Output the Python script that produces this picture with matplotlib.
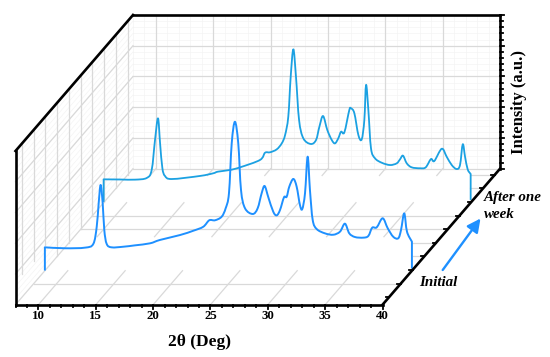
import numpy as np
import matplotlib
matplotlib.use("Agg")
import matplotlib.pyplot as plt
from matplotlib.path import Path
from matplotlib.patches import PathPatch

plt.rcParams['font.family'] = ['Liberation Serif', 'DejaVu Serif']

# values
initial_theta = [8.0, 8.0, 9.75, 11.5, 12.22, 12.52, 12.69, 12.86, 13.04, 13.18, 13.39, 13.82, 14.84, 15.86,
                 17.16, 18.03, 19.78, 20.94, 21.81, 22.33, 22.83, 23.41, 23.76, 24.05, 24.29, 24.57, 24.86,
                 25.10, 25.45, 26.12, 26.55, 26.90, 27.16, 27.48, 27.91, 28.21, 28.50, 28.85, 29.08, 29.31,
                 29.66, 29.95, 30.24, 30.44, 30.68, 30.91, 31.11, 31.35, 31.70, 32.42, 33.14, 33.73, 34.16,
                 34.54, 35.04, 35.76, 36.20, 36.54, 36.93, 37.45, 37.89, 38.37, 38.81, 39.05, 39.33, 39.57,
                 40.0, 40.0]
initial_int = [0.1, 15.2, 14.6, 15.0, 17.4, 28.6, 43.9, 55.8, 43.9, 26.5, 17.4, 15.2, 15.6, 16.5,
               17.8, 20.0, 23.2, 26.0, 28.6, 32.8, 32.8, 35.1, 40.6, 50.4, 82.9, 96.9, 82.9,
               52.5, 40.6, 36.9, 40.6, 50.4, 55.1, 47.8, 38.4, 36.0, 39.5, 47.8, 48.1, 54.7,
               59.7, 54.7, 42.7, 40.1, 50.4, 74.2, 52.5, 33.0, 27.1, 24.3, 23.4, 25.4, 30.6,
               24.3, 21.9, 21.5, 22.6, 28.0, 28.2, 34.1, 27.6, 22.1, 21.1, 26.5, 37.3, 25.4,
               18.9, 1.3]

week_theta = [8.0, 8.0, 9.43, 10.74, 11.76, 12.19, 12.48, 12.74, 12.92, 13.12, 13.35, 13.94, 16.40, 17.54,
              17.97, 19.02, 19.89, 21.63, 22.07, 22.51, 23.09, 23.53, 23.82, 24.10, 24.31, 24.54, 24.77,
              25.04, 25.41, 26.06, 26.52, 26.81, 27.13, 27.50, 27.89, 28.17, 28.46, 28.70, 28.99, 29.42,
              29.57, 29.86, 30.21, 30.50, 30.73, 30.88, 31.08, 31.31, 31.66, 32.25, 32.97, 33.55, 33.84,
              34.10, 34.43, 34.86, 35.59, 36.08, 36.54, 36.83, 37.48, 37.91, 38.35, 38.78, 39.07, 39.31,
              39.51, 39.74, 40.0, 40.0]
week_int = [0.5, 15.2, 15.1, 15.0, 16.1, 21.3, 40.8, 54.9, 38.8, 22.6, 17.4, 15.4, 17.4, 19.1,
            20.2, 21.3, 23.0, 27.8, 32.5, 32.8, 34.7, 38.6, 44.0, 56.0, 82.0, 99.8, 82.0,
            53.8, 41.9, 38.2, 40.8, 49.4, 56.4, 47.3, 40.8, 38.6, 41.9, 46.2, 45.8, 60.3,
            61.4, 58.2, 44.0, 41.2, 53.8, 76.6, 60.3, 35.4, 28.9, 26.0, 24.5, 25.6, 28.2,
            30.6, 25.6, 23.0, 22.4, 23.0, 28.4, 27.1, 35.1, 29.9, 24.5, 21.9, 24.5, 38.0,
            29.9, 21.7, 18.7, 1.8]

x_ticks = [10, 15, 20, 25, 30, 35, 40]
x_minor = list(range(8, 41))
y_ticks = [0, 20, 40, 60, 80, 100]
y_minor = list(range(0, 101, 4))
depth_ticks = [0.055, 0.155, 0.255, 0.355, 0.455, 0.555, 0.655, 0.755, 0.855, 0.955]
initial_depth = 0.25
week_depth = 0.75

# oblique projection, pixels of the picture
X0, Y0 = 15.5, 304.7
PER_DEG = 11.47
PER_INT = 1.537
DEPTH_X, DEPTH_Y = 117.5, 136.0
XMIN, XMAX = 8, 40


def project(theta, intensity, depth):
    theta = np.asarray(theta, dtype=float)
    intensity = np.asarray(intensity, dtype=float)
    return (X0 + (theta - XMIN) * PER_DEG + depth * DEPTH_X,
            Y0 - intensity * PER_INT - depth * DEPTH_Y)


def line3(ax, theta, intensity, depth, **kw):
    # depth may be a pair, for lines running into the picture
    if np.ndim(depth) == 0:
        x, y = project(theta, intensity, depth)
    else:
        x0, y0 = project(theta[0], intensity[0], depth[0])
        x1, y1 = project(theta[1], intensity[1], depth[1])
        x, y = [x0, x1], [y0, y1]
    ax.plot(x, y, **kw)


def curve3(ax, theta, intensity, depth, color, lw, zorder):
    # straight drops at both ends, smooth bezier through the read points between them
    x, y = project(theta, intensity, depth)
    pts = np.column_stack([x, y])
    verts = [pts[0], pts[1]]
    codes = [Path.MOVETO, Path.LINETO]
    for i in range(1, len(pts) - 2):
        a = pts[max(i - 1, 1)]
        b = pts[i]
        c = pts[i + 1]
        e = pts[min(i + 2, len(pts) - 2)]
        verts += [b + (c - a) / 6, c - (e - b) / 6, c]
        codes += [Path.CURVE4, Path.CURVE4, Path.CURVE4]
    verts.append(pts[-1])
    codes.append(Path.LINETO)
    ax.add_patch(PathPatch(Path(verts, codes), fill=False, edgecolor=color, lw=lw, zorder=zorder,
                           joinstyle='round', capstyle='butt'))


fig = plt.figure(figsize=(5.5, 3.57), dpi=100)
ax = fig.add_axes([0, 0, 1, 1])
ax.set_xlim(0, 550)
ax.set_ylim(357, 0)
ax.axis('off')

minor = dict(color='#f3f3f3', lw=0.45, zorder=1)
major = dict(color='#d9d9d9', lw=0.9, zorder=2)

# back wall
for t in x_minor:
    line3(ax, [t, t], [0, 100], 1, **minor)
for v in y_minor:
    line3(ax, [XMIN, XMAX], [v, v], 1, **minor)
for t in x_ticks[:-1]:
    line3(ax, [t, t], [0, 100], 1, **major)
for v in y_ticks:
    line3(ax, [XMIN, XMAX], [v, v], 1, **major)

# left wall
for v in y_minor:
    line3(ax, [XMIN, XMIN], [v, v], [0, 1], **minor)
for v in y_ticks:
    line3(ax, [XMIN, XMIN], [v, v], [0, 1], **major)
for d in depth_ticks:
    bottom = 15 if d < initial_depth else 0
    if d == 0.255:
        bottom = 16
    line3(ax, [XMIN, XMIN], [bottom, 100], d, **major)

# floor, partly hidden by the two curves
for t in x_ticks[:-1]:
    for d0, d1 in [(0, 0.25), (0.5, 0.75), (0.95, 1)]:
        line3(ax, [t, t], [0, 0], [d0, d1], **major)
for d, start in [(0.155, 8), (0.355, 39.0), (0.455, 37.9), (0.555, 8), (0.655, 8), (0.855, 38.9), (0.955, 37.9)]:
    line3(ax, [start, XMAX], [0, 0], d, **major)

# curves
curve3(ax, week_theta, week_int, week_depth, '#1ba1e2', 1.3, 4)
curve3(ax, initial_theta, initial_int, initial_depth, '#1e90ff', 1.4, 5)

# frame
frame = dict(color='black', lw=1.9, zorder=6, solid_capstyle='projecting')
line3(ax, [XMIN, XMIN], [0, 100], 0, **frame)
line3(ax, [XMIN, XMAX], [0, 0], 0, **frame)
line3(ax, [XMIN, XMIN], [100, 100], [0, 1], **frame)
line3(ax, [XMIN, XMAX], [100, 100], 1, **frame)
line3(ax, [XMAX, XMAX], [0, 100], 1, **frame)
line3(ax, [XMAX, XMAX], [0, 0], [0, 1], **frame)

# ticks
tick = dict(color='black', lw=1.3, zorder=6)
for t in x_minor:
    x, y = project(t, 0, 0)
    size = 4 if t in x_ticks else 2.5
    ax.plot([x, x], [y, y + size], **tick)
for t in x_ticks:
    x, y = project(t, 0, 0)
    ax.text(x, y + 11.5, str(t), ha='center', va='center', fontsize=9.3, fontweight='bold')
for v in y_minor:
    x, y = project(XMAX, v, 1)
    size = 4 if v in y_ticks else 2.5
    ax.plot([x, x + size], [y, y], **tick)
for d in depth_ticks:
    x, y = project(XMAX, 0, d)
    ax.plot([x, x - 3.5], [y, y], **tick)

# labels
ax.text(199, 342.5, '2θ (Deg)', ha='center', va='center', fontsize=12.5, fontweight='bold')
ax.text(519, 102.5, 'Intensity (a.u.)', ha='center', va='center', rotation=90, fontsize=12, fontweight='bold')
ax.text(484, 197, 'After one', ha='left', va='center', fontsize=10.8, fontweight='bold', style='italic')
ax.text(484, 215, 'week', ha='left', va='center', fontsize=10.8, fontweight='bold', style='italic')
ax.text(419, 282, 'Initial', ha='left', va='center', fontsize=10.8, fontweight='bold', style='italic')
ax.annotate('', xy=(480.5, 218.5), xytext=(442.7, 270),
            arrowprops=dict(arrowstyle='-|>,head_width=0.4,head_length=0.8', color='#1e90ff', lw=1.7,
                            shrinkA=0, shrinkB=0))

fig.savefig('out.png', dpi=100)
